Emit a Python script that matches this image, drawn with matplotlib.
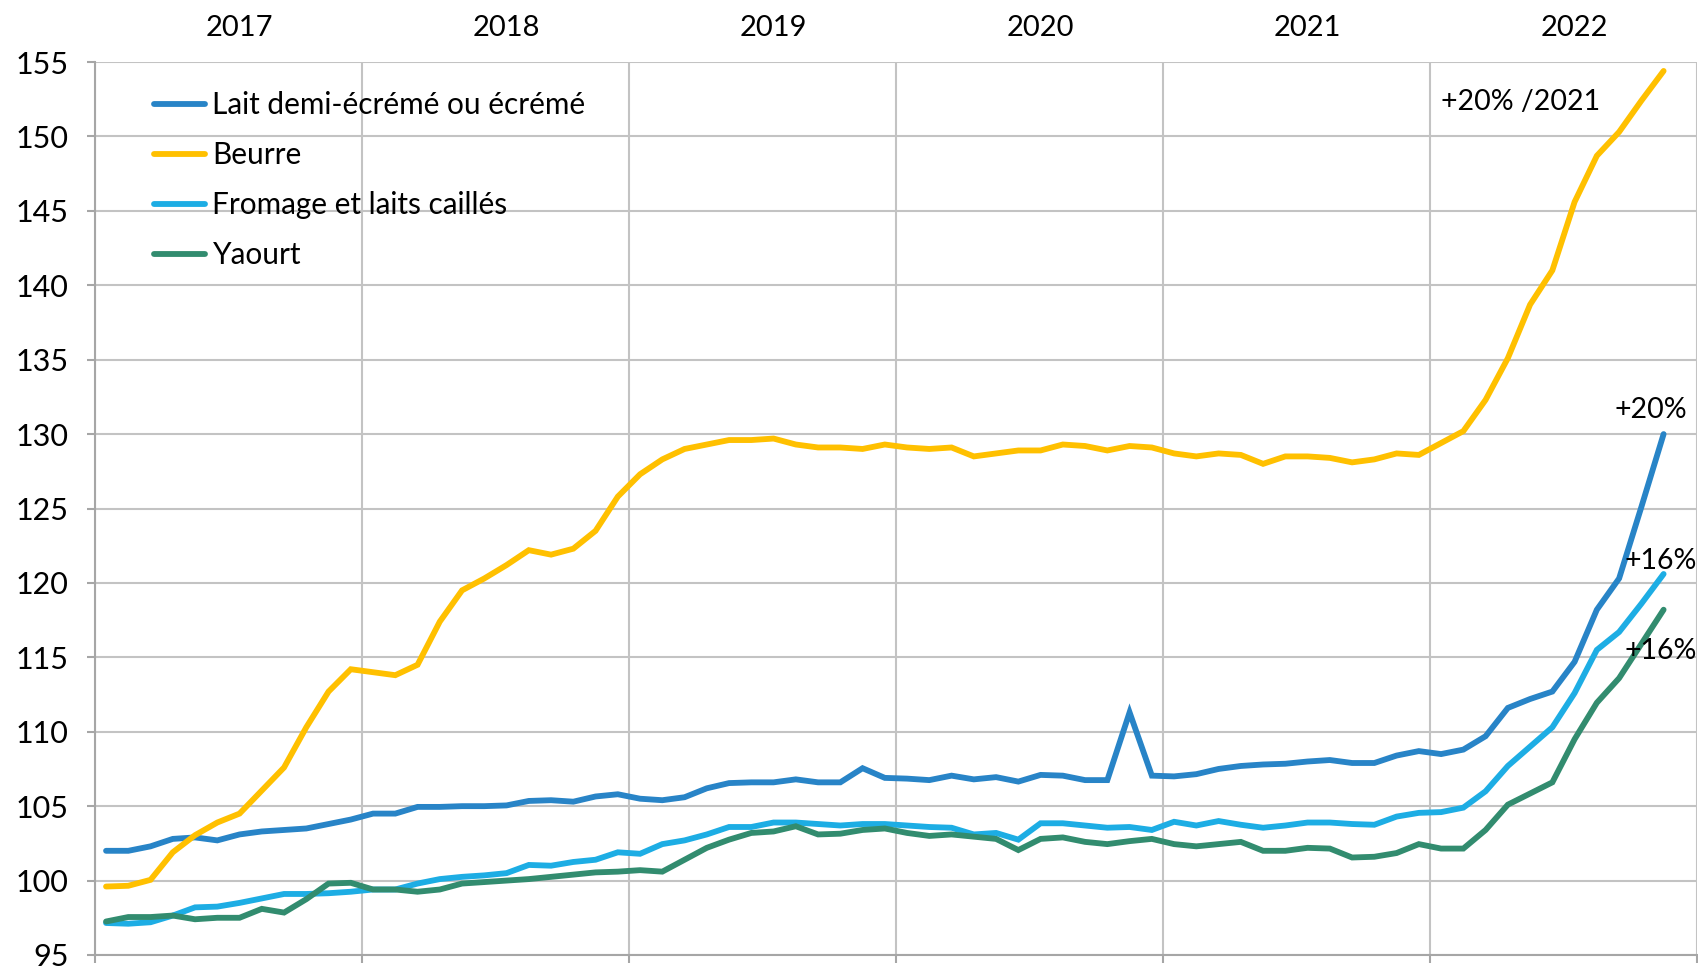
import numpy as np
import matplotlib
matplotlib.use("Agg")
import matplotlib.pyplot as plt


OUTPUT_PATH = "out.png"

YEARS = ["2017", "2018", "2019", "2020", "2021", "2022"]

# monthly index values, Jan 2017 -> Nov 2022
LAIT = [
    102.0, 102.0, 102.3, 102.8, 102.9, 102.7, 103.1, 103.3, 103.4, 103.5, 103.8, 104.1,
    104.5, 104.5, 104.95, 104.95, 105.0, 105.0, 105.05, 105.35, 105.4, 105.3, 105.65, 105.8,
    105.5, 105.4, 105.6, 106.2, 106.55, 106.6, 106.6, 106.8, 106.6, 106.6, 107.55, 106.9,
    106.85, 106.75, 107.05, 106.8, 106.95, 106.65, 107.1, 107.05, 106.75, 106.75, 111.3, 107.05,
    107.0, 107.15, 107.5, 107.7, 107.8, 107.85, 108.0, 108.1, 107.9, 107.9, 108.4, 108.7,
    108.5, 108.8, 109.7, 111.6, 112.2, 112.7, 114.7, 118.2, 120.3, 125.1, 130.0,
]

BEURRE = [
    99.6, 99.65, 100.05, 101.9, 103.05, 103.9, 104.5, 106.05, 107.6, 110.3, 112.7, 114.2,
    114.0, 113.8, 114.5, 117.4, 119.5, 120.3, 121.2, 122.2, 121.9, 122.3, 123.5, 125.8,
    127.3, 128.3, 129.0, 129.3, 129.6, 129.6, 129.7, 129.3, 129.1, 129.1, 129.0, 129.3,
    129.1, 129.0, 129.1, 128.5, 128.7, 128.9, 128.9, 129.3, 129.2, 128.9, 129.2, 129.1,
    128.7, 128.5, 128.7, 128.6, 128.0, 128.5, 128.5, 128.4, 128.1, 128.3, 128.7, 128.6,
    129.4, 130.2, 132.3, 135.1, 138.7, 141.0, 145.6, 148.7, 150.3, 152.4, 154.4,
]

FROMAGE = [
    97.15, 97.1, 97.2, 97.65, 98.2, 98.25, 98.5, 98.8, 99.1, 99.1, 99.15, 99.25,
    99.4, 99.4, 99.8, 100.1, 100.25, 100.35, 100.5, 101.05, 101.0, 101.25, 101.4, 101.9,
    101.8, 102.45, 102.7, 103.1, 103.6, 103.6, 103.9, 103.9, 103.8, 103.7, 103.8, 103.8,
    103.7, 103.6, 103.55, 103.1, 103.2, 102.75, 103.85, 103.85, 103.7, 103.55, 103.6, 103.4,
    103.95, 103.7, 104.0, 103.75, 103.55, 103.7, 103.9, 103.9, 103.8, 103.75, 104.3, 104.55,
    104.6, 104.9, 106.0, 107.7, 109.0, 110.3, 112.6, 115.5, 116.7, 118.6, 120.6,
]

YAOURT = [
    97.25, 97.55, 97.55, 97.65, 97.4, 97.5, 97.5, 98.1, 97.85, 98.75, 99.8, 99.85,
    99.4, 99.4, 99.25, 99.4, 99.8, 99.9, 100.0, 100.1, 100.25, 100.4, 100.55, 100.6,
    100.7, 100.6, 101.4, 102.2, 102.75, 103.2, 103.3, 103.65, 103.1, 103.15, 103.4, 103.5,
    103.2, 103.0, 103.1, 102.95, 102.8, 102.05, 102.8, 102.9, 102.6, 102.45, 102.65, 102.8,
    102.45, 102.3, 102.45, 102.6, 102.0, 102.0, 102.2, 102.15, 101.55, 101.6, 101.85, 102.45,
    102.15, 102.15, 103.4, 105.1, 105.85, 106.6, 109.5, 111.95, 113.6, 115.9, 118.2,
]

SERIES = [
    ("Lait demi-écrémé ou écrémé", LAIT, "#2884C7"),
    ("Beurre", BEURRE, "#FFC000"),
    ("Fromage et laits caillés", FROMAGE, "#1DADE4"),
    ("Yaourt", YAOURT, "#328C6F"),
]

# (text, month position, value)
ANNOTATIONS = [
    ("+20% /2021", 60.5, 152.3),
    ("+20%", 68.3, 131.6),
    ("+16%", 68.75, 121.5),
    ("+16%", 68.75, 115.4),
]

FONT_SIZE = 21.4
GRID_COLOR = "#c3c3c3"

plt.rcParams["font.family"] = ["Lato", "DejaVu Sans"]


def build_chart():
    fig = plt.figure(figsize=(16.98, 9.66), dpi=100)
    ax = fig.add_axes([0.0559, 0.0114, 0.9435, 0.9244])

    x = np.arange(len(LAIT)) + 0.5
    for label, values, color in SERIES:
        ax.plot(x, values, color=color, linewidth=4.2, label=label,
                solid_joinstyle="miter", solid_capstyle="round")

    n_months = 12 * len(YEARS)
    ax.set_xlim(0, n_months)
    ax.set_ylim(95, 155)
    ax.set_yticks(np.arange(95, 156, 5))
    ax.set_xticks(np.arange(0, n_months + 1, 12))
    ax.set_xticklabels([])

    ax.grid(True, color=GRID_COLOR, linewidth=1.5)
    ax.set_axisbelow(True)
    for side in ["top", "right"]:
        ax.spines[side].set_visible(False)
    for side in ["left", "bottom"]:
        ax.spines[side].set_color("#a6a6a6")
        ax.spines[side].set_linewidth(1.5)
    ax.tick_params(axis="both", colors="#a6a6a6", width=1.5, length=6)
    ax.tick_params(axis="y", labelcolor="black", labelsize=22, pad=13)

    # year labels above the plot
    for i, year in enumerate(YEARS):
        ax.text(12 * i + 6.5, 1.038, year, transform=ax.get_xaxis_transform(),
                ha="center", va="center", fontsize=21)

    for text, xpos, ypos in ANNOTATIONS:
        ax.text(xpos, ypos, text, ha="left", va="center", fontsize=20.5)

    ax.legend(loc="upper left", bbox_to_anchor=(0.037, 0.967), frameon=False,
              fontsize=FONT_SIZE, handlelength=1.72, handletextpad=0.24,
              labelspacing=0.74, borderpad=0, borderaxespad=0)

    fig.savefig(OUTPUT_PATH, dpi=100)
    plt.close(fig)


if __name__ == "__main__":
    build_chart()
